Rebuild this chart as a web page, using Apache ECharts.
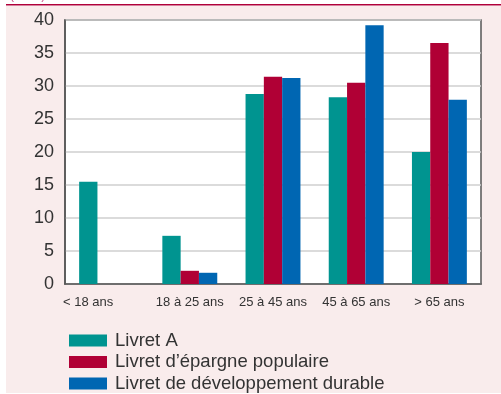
<!DOCTYPE html>
<html><head><meta charset="utf-8">
<script src="https://cdn.jsdelivr.net/npm/echarts@6/dist/echarts.min.js"></script>
<style>html,body{margin:0;padding:0;background:#fff}#c{width:501px;height:394px}</style>
</head><body><div id="c"></div>
<script>
const categories = ['< 18 ans', '18 à 25 ans', '25 à 45 ans', '45 à 65 ans', '> 65 ans'];
const seriesNames = ['Livret A', 'Livret d\u2019épargne populaire', 'Livret de développement durable'];
const livretA = [15.5, 7.3, 28.8, 28.3, 20.0];
const lep = [null, 2.0, 31.4, 30.5, 36.5];
const ldd = [null, 1.7, 31.2, 39.2, 27.9];
const yTicks = [0, 5, 10, 15, 20, 25, 30, 35, 40];

const colors = ['#009490', '#B00035', '#0066B2'];
const font = 'Liberation Sans, Arial, sans-serif';
const legendTops = [326, 347.5, 369];
const chart = echarts.init(document.getElementById('c'));
chart.setOption({
  animation: false,
  backgroundColor: '#ffffff',
  color: colors,
  graphic: [
    {type: 'rect', shape: {x: 6, y: 6, width: 495, height: 387}, style: {fill: '#F9ECEC'}, z: -10},
    {type: 'rect', shape: {x: 6, y: 4, width: 495, height: 1.5}, style: {fill: '#B0003A'}, z: -10},
    {type: 'text', left: 10, top: -10, style: {text: '(en %)', fill: '#C8508A', font: '12px ' + font}, z: -10}
  ],
  grid: {left: 65, top: 20, right: 20, bottom: 110, show: true, backgroundColor: '#ffffff', borderColor: '#555555', borderWidth: 1.5},
  legend: seriesNames.map((n, i) => ({
    orient: 'vertical', left: 64, top: legendTops[i],
    itemWidth: 38, itemHeight: 12, itemGap: 0,
    icon: 'rect',
    textStyle: {fontFamily: font, fontSize: 18.5, color: '#333333', padding: [0, 0, 0, 3]},
    data: [n]
  })),
  xAxis: {
    type: 'category',
    data: categories.map((c, i) => i === 0 ? {value: c, textStyle: {padding: [0, 37, 0, 0]}} : c),
    axisLine: {show: true, lineStyle: {color: '#555555', width: 1.5}},
    axisTick: {show: false},
    axisLabel: {fontFamily: font, fontSize: 13, color: '#333333', margin: 12, interval: 0}
  },
  yAxis: {
    type: 'value', min: 0, max: 40, interval: 5,
    axisLine: {show: true, lineStyle: {color: '#555555', width: 1.5}},
    axisTick: {show: false},
    splitLine: {lineStyle: {color: '#CFCFCF', width: 1.5}},
    axisLabel: {fontFamily: font, fontSize: 18, color: '#333333', margin: 11,
      formatter: v => yTicks.includes(v) ? String(v) : ''}
  },
  series: [
    {name: seriesNames[0], type: 'bar', data: livretA, barGap: '0%', barCategoryGap: '34%'},
    {name: seriesNames[1], type: 'bar', data: lep, barGap: '0%', barCategoryGap: '34%'},
    {name: seriesNames[2], type: 'bar', data: ldd, barGap: '0%', barCategoryGap: '34%'}
  ]
});
</script></body></html>
